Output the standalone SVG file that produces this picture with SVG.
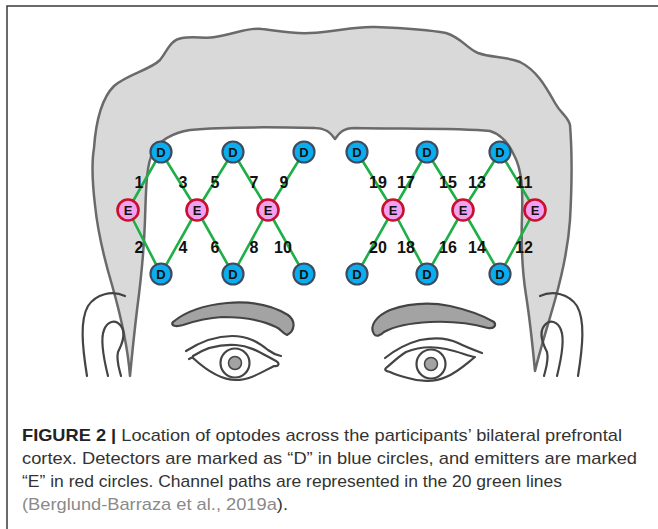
<svg xmlns="http://www.w3.org/2000/svg" width="658" height="529" viewBox="0 0 658 529">
  <style>
    .frame { fill: none; stroke: #3a3a3a; stroke-width: 1.5; }
    .hair { fill: #d9d9d9; stroke: #6a6a6a; stroke-width: 2.5; stroke-linejoin: round; }
    .line { fill: none; stroke: #444; stroke-width: 2.2; stroke-linecap: round; stroke-linejoin: round; }
    .brow { fill: #a3a3a3; stroke: #444; stroke-width: 2.2; stroke-linejoin: round; }
    .pupil { fill: #a3a3a3; stroke: #444; stroke-width: 1.5; }
    .ch { stroke: #1faf48; stroke-width: 2.6; stroke-linecap: round; }
    .det { fill: #0aaef0; stroke: #3d4b5e; stroke-width: 2.2; }
    .emi { fill: #f3a0f0; stroke: #c8102e; stroke-width: 2.6; }
    .nl { font-family: "Liberation Sans", Arial, sans-serif; font-weight: bold; font-size: 13px; fill: #111; text-anchor: middle; }
    .cl { font-family: "Liberation Sans", Arial, sans-serif; font-weight: bold; font-size: 16px; fill: #111; text-anchor: middle; }
    .cap { font-family: "Liberation Sans", Arial, sans-serif; font-size: 17px; fill: #333; }
    .cite { fill: #8a8a8a; }
  </style>

  <!-- figure frame (left and top rules) -->
  <path class="frame" d="M7,529 V6 H658"/>

  <!-- head -->
  <g id="head">
    <!-- hair mass with forehead cut-out -->
    <path class="hair" d="M130,376
      C128,350 122,320 112,285
      C104,258 98,235 95,205
      C92,180 92,160 94,148
      C96,120 102,98 114,86
      C128,74 150,70 160,60
      C168,50 170,40 182,38
      C195,36 205,39 215,37
      C235,34 248,27 262,29
      C280,31 292,34 310,33
      C335,32 355,26 375,27
      C400,28 430,30 446,33
      C462,38 466,48 478,53
      C492,58 505,56 520,62
      C536,70 545,85 555,103
      C561,114 568,116 570,125
      C572,150 572,185 570,220
      C568,250 562,275 555,300
      C548,325 540,350 535,371
      C533,350 530,320 526,295
      C522,270 521,245 522,215
      C523,190 522,170 514,155
      C508,142 500,134 490,131
      C460,128 400,129 355,128
      C343,128 339,133 335,139
      C331,133 326,128 315,128
      C270,127 220,127 190,130
      C172,133 160,140 153,152
      C146,165 146,190 145,220
      C144,250 141,280 137,310
      C134,335 132,355 130,376 Z"/>

    <!-- ears -->
    <path class="line" d="M125,296 C112,290 96,294 88,306 C80,320 82,345 87,376"/>
    <path class="line" d="M108,376 C104,360 100,340 104,330 C107,322 115,318 121,326 C127,334 121,346 118,352 C116,360 119,368 121,376"/>
    <path class="line" d="M540,296 C553,290 569,294 577,306 C585,320 583,345 578,376"/>
    <path class="line" d="M557,376 C561,360 565,340 561,330 C558,322 550,318 544,326 C538,334 544,346 547,352 C549,360 546,368 544,376"/>

    <!-- eyebrows -->
    <path class="brow" d="M173,322 C185,312 205,305 227,303 C250,301 272,305 288,315 C296,321 295,331 287,335 C282,333 281,329 276,327 C262,320 245,317 222,317 C205,318 192,322 183,325 C176,327 170,326 173,322 Z"/>
    <path class="brow" d="M374,334 C369,326 376,316 390,310 C410,303 430,302 450,306 C468,310 484,316 494,322 C497,326 493,329 488,328 C470,323 450,321 430,322 C410,323 395,326 384,332 C380,336 376,337 374,334 Z"/>

    <!-- left eye -->
    <path class="line" d="M186,351 C200,342 215,336 232,336 C248,336 258,342 268,350 C272,353 276,355 281,356"/>
    <path class="line" d="M193,356 C205,348 220,344 236,345 C252,346 264,355 276,361 C280,363 279,367 274,366 C262,372 250,380 236,380 C220,380 206,370 193,358"/>
    <path class="line" d="M193,357 L189,359"/>
    <circle class="line" cx="235" cy="363" r="14.5"/>
    <circle class="pupil" cx="235" cy="363" r="6.5"/>

    <!-- right eye -->
    <path class="line" d="M385,358 C395,350 405,344 420,340 C435,337 448,338 458,343 C466,347 474,350 482,353"/>
    <path class="line" d="M386,368 C392,363 398,357 406,352 C418,347 432,346 446,349 C460,352 468,356 475,357 C466,364 458,372 446,377 C435,382 420,382 408,378 C400,376 394,374 390,372 C386,371 384,370 386,368 Z"/>
    <circle class="line" cx="431" cy="364" r="14.5"/>
    <circle class="pupil" cx="431" cy="364" r="6.5"/>
  </g>

  <!-- channel paths -->
  <g id="connectors">
    <line class="ch" x1="128" y1="210" x2="161" y2="152"/>
    <line class="ch" x1="128" y1="210" x2="161" y2="274"/>
    <line class="ch" x1="161" y1="152" x2="197" y2="210"/>
    <line class="ch" x1="197" y1="210" x2="161" y2="274"/>
    <line class="ch" x1="197" y1="210" x2="233" y2="152"/>
    <line class="ch" x1="197" y1="210" x2="233" y2="274"/>
    <line class="ch" x1="233" y1="152" x2="268" y2="210"/>
    <line class="ch" x1="268" y1="210" x2="233" y2="274"/>
    <line class="ch" x1="268" y1="210" x2="304" y2="152"/>
    <line class="ch" x1="268" y1="210" x2="304" y2="274"/>

    <line class="ch" x1="500" y1="152" x2="535" y2="210"/>
    <line class="ch" x1="535" y1="210" x2="500" y2="274"/>
    <line class="ch" x1="500" y1="152" x2="463" y2="210"/>
    <line class="ch" x1="463" y1="210" x2="500" y2="274"/>
    <line class="ch" x1="463" y1="210" x2="427" y2="152"/>
    <line class="ch" x1="463" y1="210" x2="427" y2="274"/>
    <line class="ch" x1="427" y1="152" x2="393" y2="210"/>
    <line class="ch" x1="393" y1="210" x2="427" y2="274"/>
    <line class="ch" x1="393" y1="210" x2="357" y2="152"/>
    <line class="ch" x1="393" y1="210" x2="357" y2="274"/>
  </g>

  <!-- channel numbers -->
  <g id="channel-labels">
    <text class="cl" x="139" y="188">1</text>
    <text class="cl" x="183" y="188">3</text>
    <text class="cl" x="215" y="188">5</text>
    <text class="cl" x="254" y="188">7</text>
    <text class="cl" x="284" y="188">9</text>
    <text class="cl" x="139" y="253">2</text>
    <text class="cl" x="183" y="253">4</text>
    <text class="cl" x="215" y="253">6</text>
    <text class="cl" x="254" y="253">8</text>
    <text class="cl" x="283" y="253">10</text>
    <text class="cl" x="378" y="188">19</text>
    <text class="cl" x="406" y="188">17</text>
    <text class="cl" x="448" y="188">15</text>
    <text class="cl" x="477" y="188">13</text>
    <text class="cl" x="524" y="188">11</text>
    <text class="cl" x="378" y="253">20</text>
    <text class="cl" x="406" y="253">18</text>
    <text class="cl" x="448" y="253">16</text>
    <text class="cl" x="477" y="253">14</text>
    <text class="cl" x="524" y="253">12</text>
  </g>

  <!-- detectors -->
  <g id="D1"><circle class="det" cx="161" cy="152" r="10.5"/><text class="nl" x="161" y="157">D</text></g>
  <g id="D2"><circle class="det" cx="233" cy="152" r="10.5"/><text class="nl" x="233" y="157">D</text></g>
  <g id="D3"><circle class="det" cx="304" cy="152" r="10.5"/><text class="nl" x="304" y="157">D</text></g>
  <g id="D4"><circle class="det" cx="161" cy="274" r="10.5"/><text class="nl" x="161" y="279">D</text></g>
  <g id="D5"><circle class="det" cx="233" cy="274" r="10.5"/><text class="nl" x="233" y="279">D</text></g>
  <g id="D6"><circle class="det" cx="304" cy="274" r="10.5"/><text class="nl" x="304" y="279">D</text></g>
  <g id="D7"><circle class="det" cx="357" cy="152" r="10.5"/><text class="nl" x="357" y="157">D</text></g>
  <g id="D8"><circle class="det" cx="427" cy="152" r="10.5"/><text class="nl" x="427" y="157">D</text></g>
  <g id="D9"><circle class="det" cx="500" cy="152" r="10.5"/><text class="nl" x="500" y="157">D</text></g>
  <g id="D10"><circle class="det" cx="357" cy="274" r="10.5"/><text class="nl" x="357" y="279">D</text></g>
  <g id="D11"><circle class="det" cx="427" cy="274" r="10.5"/><text class="nl" x="427" y="279">D</text></g>
  <g id="D12"><circle class="det" cx="500" cy="274" r="10.5"/><text class="nl" x="500" y="279">D</text></g>

  <!-- emitters -->
  <g id="E1"><circle class="emi" cx="128" cy="210" r="10.5"/><text class="nl" x="128" y="215">E</text></g>
  <g id="E2"><circle class="emi" cx="197" cy="210" r="10.5"/><text class="nl" x="197" y="215">E</text></g>
  <g id="E3"><circle class="emi" cx="268" cy="210" r="10.5"/><text class="nl" x="268" y="215">E</text></g>
  <g id="E4"><circle class="emi" cx="393" cy="210" r="10.5"/><text class="nl" x="393" y="215">E</text></g>
  <g id="E5"><circle class="emi" cx="463" cy="210" r="10.5"/><text class="nl" x="463" y="215">E</text></g>
  <g id="E6"><circle class="emi" cx="535" cy="210" r="10.5"/><text class="nl" x="535" y="215">E</text></g>

  <!-- caption -->
  <g id="caption">
    <text class="cap" x="22" y="441" textLength="600" lengthAdjust="spacingAndGlyphs"><tspan font-weight="bold" fill="#222">FIGURE 2 |</tspan> Location of optodes across the participants’ bilateral prefrontal</text>
    <text class="cap" x="22" y="464" textLength="615" lengthAdjust="spacingAndGlyphs">cortex. Detectors are marked as “D” in blue circles, and emitters are marked</text>
    <text class="cap" x="22" y="487" textLength="540" lengthAdjust="spacingAndGlyphs">“E” in red circles. Channel paths are represented in the 20 green lines</text>
    <text class="cap" x="22" y="510" textLength="266" lengthAdjust="spacingAndGlyphs"><tspan class="cite">(Berglund-Barraza et al., 2019a</tspan>).</text>
  </g>
</svg>
